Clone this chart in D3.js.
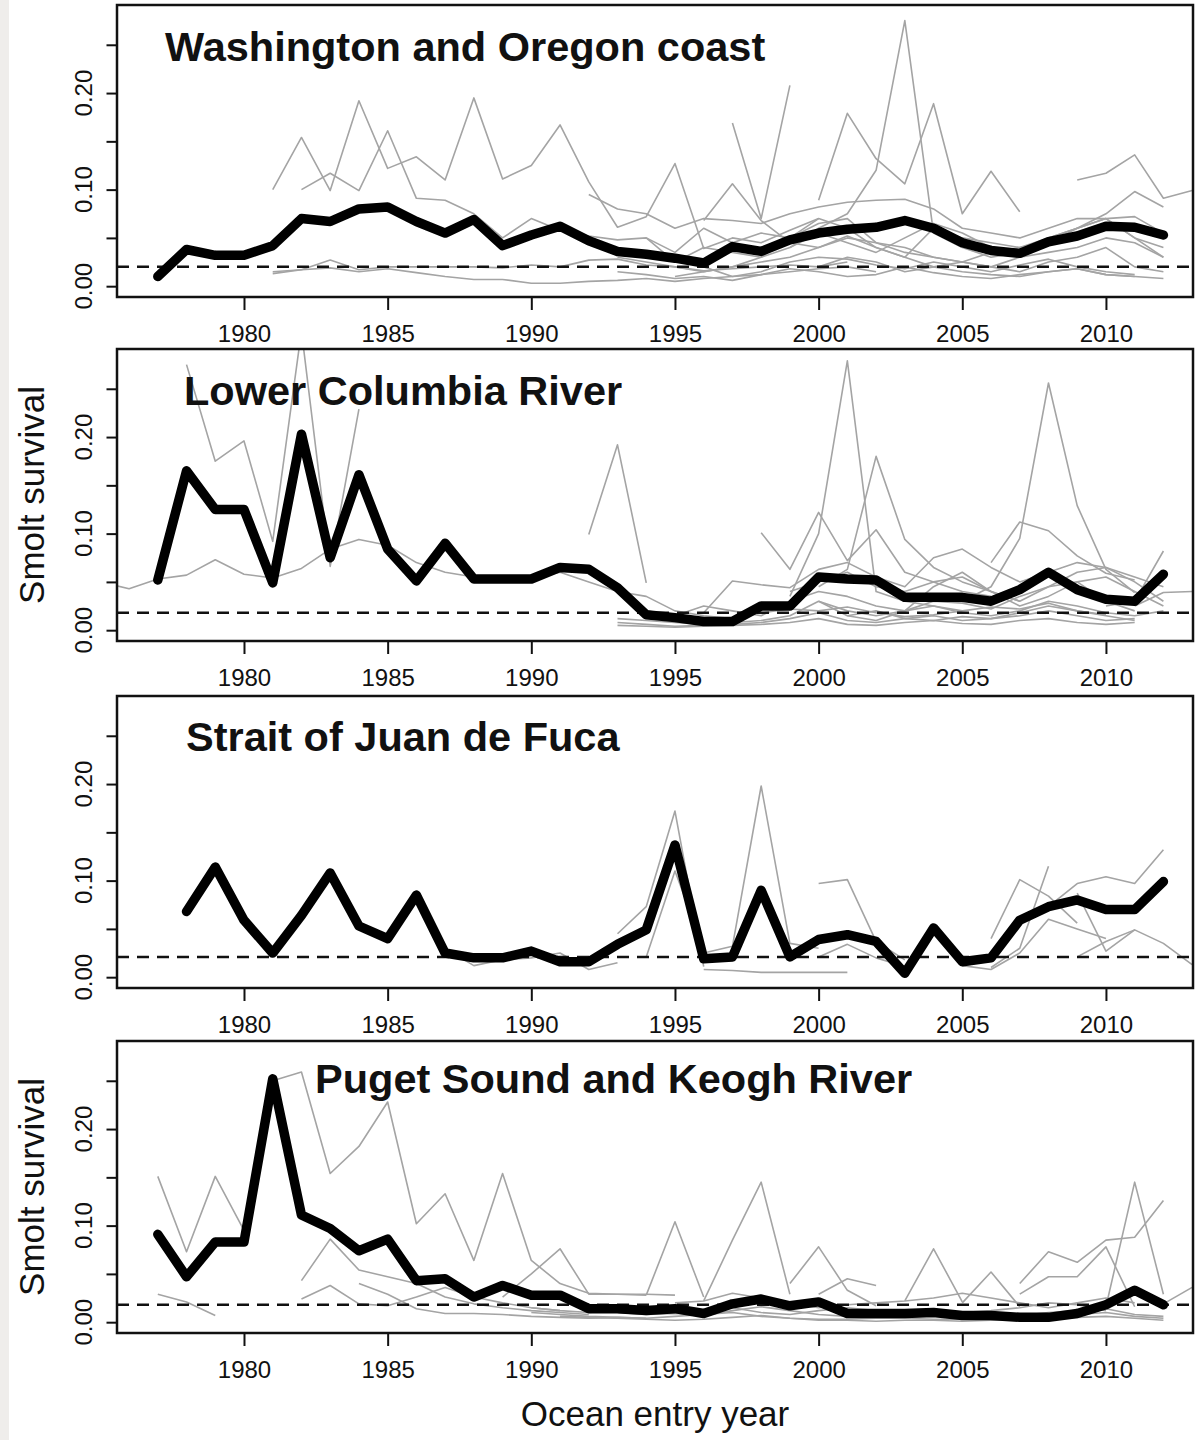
<!DOCTYPE html>
<html>
<head>
<meta charset="utf-8">
<script src="https://cdn.jsdelivr.net/npm/d3@7"></script>
<style>
  body { margin: 0; background: #fff; }
  svg { display: block; }
  text { font-family: "Liberation Sans", Arial, sans-serif; fill: #111; }
</style>
</head>
<body>
<svg id="chart" width="1197" height="1440"></svg>
<script>
// panel titles and reference (dashed) levels
var panelTitles = ["Washington and Oregon coast", "Lower Columbia River", "Strait of Juan de Fuca", "Puget Sound and Keogh River"];
var refLevels = [0.020, 0.018, 0.021, 0.018];

// thick black series, first year then one value per year
var medianStart = [1977, 1977, 1978, 1977];
var medianWA = [0.010, 0.038, 0.032, 0.032, 0.042, 0.070, 0.067, 0.080, 0.082, 0.067, 0.055, 0.069, 0.042, 0.053, 0.062, 0.047, 0.036, 0.033, 0.029, 0.024, 0.041, 0.036, 0.048, 0.055, 0.059, 0.061, 0.068, 0.060, 0.045, 0.037, 0.034, 0.046, 0.052, 0.062, 0.061, 0.053];
var medianLC = [0.052, 0.165, 0.125, 0.125, 0.049, 0.203, 0.075, 0.161, 0.084, 0.051, 0.090, 0.053, 0.053, 0.053, 0.065, 0.063, 0.044, 0.016, 0.013, 0.009, 0.009, 0.025, 0.025, 0.055, 0.053, 0.052, 0.034, 0.034, 0.034, 0.030, 0.042, 0.060, 0.042, 0.032, 0.030, 0.058];
var medianJF = [0.068, 0.114, 0.059, 0.025, 0.064, 0.108, 0.053, 0.040, 0.085, 0.025, 0.020, 0.020, 0.027, 0.016, 0.016, 0.034, 0.049, 0.137, 0.019, 0.021, 0.090, 0.021, 0.039, 0.044, 0.037, 0.004, 0.051, 0.016, 0.020, 0.059, 0.073, 0.080, 0.070, 0.070, 0.099];
var medianPS = [0.091, 0.047, 0.083, 0.083, 0.252, 0.111, 0.097, 0.074, 0.086, 0.043, 0.045, 0.026, 0.038, 0.028, 0.028, 0.014, 0.014, 0.012, 0.014, 0.009, 0.019, 0.024, 0.017, 0.021, 0.009, 0.009, 0.009, 0.010, 0.007, 0.007, 0.005, 0.005, 0.009, 0.018, 0.033, 0.018];

// thin grey series: [first year, values]
var grayWA = [
  [1981, [0.100, 0.154, 0.099, 0.192, 0.122, 0.134, 0.110, 0.195, 0.111, 0.125, 0.167, 0.108, 0.061, 0.072, 0.127, 0.039, 0.050, 0.045, 0.058, 0.070]],
  [1982, [0.100, 0.117, 0.099, 0.161, 0.091, 0.089, 0.075, 0.050, 0.070, 0.058, 0.052, 0.048, 0.050, 0.025, 0.040, 0.035, 0.030]],
  [1981, [0.015, 0.017, 0.027, 0.017, 0.020, 0.020, 0.020, 0.020, 0.019, 0.022, 0.020, 0.027, 0.028, 0.022, 0.020, 0.016, 0.018, 0.020, 0.022, 0.020, 0.025]],
  [1981, [0.013, 0.017, 0.019, 0.015, 0.018, 0.014, 0.010, 0.007, 0.007, 0.003, 0.003, 0.005, 0.006, 0.008, 0.005, 0.008, 0.010, 0.012, 0.015, 0.018, 0.020, 0.015]],
  [1999, [0.040, 0.060, 0.075, 0.120, 0.275, 0.055, 0.040, 0.030, 0.035]],
  [2000, [0.089, 0.179, 0.132, 0.106, 0.189, 0.075, 0.119, 0.077]],
  [2009, [0.110, 0.117, 0.136, 0.091, 0.099]],
  [2008, [0.050, 0.060, 0.075, 0.098, 0.082]],
  [1997, [0.169, 0.070, 0.208]],
  [1992, [0.095, 0.080, 0.075, 0.060, 0.070, 0.068, 0.065, 0.075, 0.082, 0.087, 0.089, 0.090, 0.080, 0.060, 0.055, 0.050, 0.060, 0.070, 0.070, 0.072, 0.055]],
  [1993, [0.030, 0.025, 0.020, 0.015, 0.020, 0.025, 0.030, 0.040, 0.050, 0.045, 0.040, 0.030, 0.025, 0.020, 0.030, 0.035, 0.040, 0.050, 0.045, 0.030]],
  [1995, [0.010, 0.015, 0.020, 0.030, 0.050, 0.070, 0.060, 0.040, 0.030, 0.060, 0.050, 0.045, 0.040, 0.050, 0.060, 0.070, 0.050, 0.040]],
  [1998, [0.030, 0.040, 0.055, 0.045, 0.035, 0.050, 0.065, 0.055, 0.040, 0.030, 0.045, 0.060, 0.070, 0.050, 0.030]],
  [2000, [0.020, 0.030, 0.025, 0.015, 0.020, 0.025, 0.020, 0.015, 0.025, 0.030, 0.040, 0.020, 0.015]],
  [1994, [0.050, 0.035, 0.060, 0.045, 0.055, 0.050, 0.065, 0.070, 0.045, 0.035, 0.030, 0.025, 0.035, 0.040, 0.045]],
  [1996, [0.068, 0.106, 0.068, 0.045, 0.040, 0.052, 0.040, 0.030, 0.020, 0.015, 0.012, 0.010, 0.015, 0.018, 0.012, 0.010, 0.008]],
  [1993, [0.015, 0.012, 0.008, 0.010, 0.006, 0.012, 0.018, 0.015, 0.010, 0.012, 0.020, 0.014, 0.010, 0.008, 0.012, 0.015, 0.018, 0.012, 0.010]],
  [1996, [0.020, 0.010, 0.015, 0.025, 0.030, 0.028, 0.022, 0.018, 0.025, 0.020, 0.015, 0.022, 0.028, 0.020, 0.015, 0.012]]
];
var grayLC = [
  [1978, [0.275, 0.175, 0.196, 0.092, 0.310, 0.066, 0.229]],
  [1975, [0.050, 0.043, 0.053, 0.057, 0.073, 0.058, 0.054, 0.064, 0.084, 0.094, 0.088, 0.070, 0.060, 0.055, 0.054, 0.054, 0.060, 0.050, 0.040, 0.035, 0.020, 0.015, 0.012]],
  [1992, [0.099, 0.192, 0.049]],
  [1998, [0.101, 0.063, 0.122, 0.072, 0.104, 0.060, 0.050, 0.040, 0.035]],
  [1999, [0.035, 0.100, 0.279, 0.040, 0.030, 0.025, 0.020]],
  [2000, [0.045, 0.063, 0.180, 0.094, 0.065, 0.050, 0.040, 0.030]],
  [2005, [0.030, 0.045, 0.095, 0.256, 0.129, 0.063, 0.039]],
  [2006, [0.070, 0.112, 0.103, 0.077, 0.059, 0.052]],
  [2010, [0.025, 0.030, 0.082]],
  [2011, [0.025, 0.039, 0.040]],
  [1996, [0.018, 0.051, 0.047, 0.044, 0.063, 0.070, 0.055, 0.045, 0.075, 0.084, 0.065, 0.050, 0.060, 0.070, 0.065, 0.055, 0.045]],
  [1993, [0.012, 0.010, 0.008, 0.006, 0.008, 0.010, 0.015, 0.030, 0.020, 0.015, 0.020, 0.025, 0.018, 0.015, 0.020, 0.030, 0.025, 0.018, 0.015, 0.020]],
  [1993, [0.008, 0.006, 0.004, 0.005, 0.006, 0.008, 0.012, 0.018, 0.010, 0.008, 0.012, 0.015, 0.010, 0.012, 0.015, 0.020, 0.015, 0.010, 0.012]],
  [1994, [0.020, 0.015, 0.025, 0.020, 0.015, 0.030, 0.040, 0.035, 0.025, 0.020, 0.030, 0.028, 0.022, 0.035, 0.045, 0.050, 0.030, 0.020]],
  [1999, [0.040, 0.050, 0.060, 0.045, 0.040, 0.050, 0.055, 0.040, 0.030, 0.045, 0.060, 0.065, 0.050, 0.030]],
  [2000, [0.030, 0.015, 0.010, 0.020, 0.045, 0.060, 0.040, 0.025, 0.035, 0.050, 0.055, 0.040, 0.025]],
  [1993, [0.005, 0.004, 0.003, 0.004, 0.005, 0.006, 0.008, 0.012, 0.006, 0.005, 0.008, 0.010, 0.007, 0.006, 0.010, 0.012, 0.008, 0.006, 0.008]],
  [1994, [0.014, 0.012, 0.010, 0.012, 0.018, 0.022, 0.020, 0.024, 0.018, 0.014, 0.016, 0.020, 0.024, 0.022, 0.028, 0.020, 0.016]],
  [2001, [0.015, 0.020, 0.012, 0.010, 0.014, 0.012, 0.018, 0.025, 0.020, 0.015, 0.010]]
];
var grayJF = [
  [1993, [0.045, 0.073, 0.172, 0.011]],
  [1994, [0.021, 0.110, 0.030]],
  [1996, [0.008, 0.007, 0.005, 0.005, 0.005, 0.005]],
  [1996, [0.025, 0.032, 0.198, 0.035, 0.030]],
  [2000, [0.097, 0.101, 0.037, 0.018]],
  [2000, [0.021, 0.034, 0.020, 0.011]],
  [2006, [0.040, 0.101, 0.084, 0.056]],
  [2006, [0.010, 0.030, 0.115]],
  [2008, [0.073, 0.097, 0.104, 0.097, 0.132]],
  [2009, [0.087, 0.027, 0.049, 0.035, 0.013]],
  [2009, [0.021, 0.037, 0.049]],
  [1986, [0.080, 0.030, 0.012, 0.018, 0.020, 0.025, 0.008, 0.015]],
  [2005, [0.012, 0.008, 0.025, 0.060, 0.050, 0.040]]
];
var grayPS = [
  [1977, [0.151, 0.073, 0.151, 0.095, 0.250, 0.259, 0.154, 0.182, 0.228, 0.102, 0.133, 0.064, 0.154, 0.064, 0.040, 0.030, 0.029, 0.028]],
  [1982, [0.043, 0.086, 0.054, 0.047, 0.040, 0.026, 0.019, 0.015, 0.012, 0.010, 0.008]],
  [1982, [0.024, 0.038, 0.019, 0.017, 0.026, 0.036, 0.026, 0.020, 0.015, 0.012]],
  [1977, [0.029, 0.021, 0.007]],
  [1984, [0.040, 0.029, 0.014, 0.009, 0.009, 0.008, 0.006, 0.005, 0.004, 0.005, 0.004]],
  [1989, [0.026, 0.050, 0.076, 0.029, 0.029, 0.029, 0.028]],
  [1994, [0.028, 0.104, 0.026]],
  [1996, [0.022, 0.085, 0.145, 0.029]],
  [1999, [0.040, 0.078, 0.033, 0.017]],
  [2000, [0.029, 0.045, 0.038]],
  [2003, [0.022, 0.076, 0.021]],
  [2005, [0.020, 0.052, 0.016]],
  [2007, [0.040, 0.073, 0.062, 0.085, 0.088, 0.126]],
  [2007, [0.029, 0.047, 0.047, 0.078, 0.016]],
  [2010, [0.016, 0.145, 0.029]],
  [2012, [0.019, 0.036]],
  [1990, [0.010, 0.008, 0.006, 0.005, 0.004, 0.006, 0.008, 0.010, 0.006, 0.004, 0.003, 0.003, 0.004, 0.004, 0.003, 0.003, 0.004, 0.005, 0.006, 0.008, 0.010, 0.006, 0.004]],
  [1990, [0.015, 0.012, 0.010, 0.012, 0.015, 0.010, 0.012, 0.015, 0.010, 0.008, 0.012, 0.015, 0.012, 0.010, 0.008, 0.010, 0.012, 0.015, 0.020, 0.018, 0.012]],
  [1995, [0.020, 0.022, 0.030, 0.025, 0.020, 0.015, 0.018, 0.020, 0.022, 0.025, 0.030, 0.025, 0.020, 0.015, 0.020, 0.025, 0.020]],
  [1991, [0.006, 0.005, 0.004, 0.003, 0.002, 0.003, 0.005, 0.007, 0.004, 0.002, 0.002, 0.001, 0.002, 0.002, 0.001, 0.002, 0.003, 0.004, 0.005, 0.006, 0.004, 0.002]],
  [1993, [0.010, 0.008, 0.009, 0.007, 0.012, 0.016, 0.012, 0.008, 0.006, 0.007, 0.009, 0.008, 0.006, 0.005, 0.007, 0.010, 0.012, 0.014, 0.008, 0.006]]
];

// axis ticks
var xTicks = [1980, 1985, 1990, 1995, 2000, 2005, 2010];
var yTicks = [0, 0.05, 0.10, 0.15, 0.20, 0.25];
var yLabelTicks = [0, 0.10, 0.20];

var medians = [medianWA, medianLC, medianJF, medianPS];
var grays = [grayWA, grayLC, grayJF, grayPS];

// layout
var boxLeft = 117, boxRight = 1193, panelH = 292;
var panelTops = [5, 349, 696, 1041];
var titlePos = [[165, 61], [184, 405], [186, 751], [315, 1093]];

var svg = d3.select("#chart");
svg.append("rect").attr("x", 0).attr("y", 0).attr("width", 9).attr("height", 1440).attr("fill", "#efedeb");

var x = d3.scaleLinear().domain([1975.58, 2013.03]).range([boxLeft, boxRight]);

function toPoints(start, vals) {
  return vals.map(function(v, i) { return [start + i, v]; });
}

panelTops.forEach(function(top, p) {
  var y = d3.scaleLinear().domain([-0.0112, 0.2912]).range([top + panelH, top]);
  var line = d3.line()
    .x(function(d) { return x(d[0]); })
    .y(function(d) { return y(d[1]); });

  var g = svg.append("g");

  svg.append("clipPath").attr("id", "clip" + p)
    .append("rect")
    .attr("x", boxLeft).attr("y", top)
    .attr("width", boxRight - boxLeft).attr("height", panelH);

  var plot = g.append("g").attr("clip-path", "url(#clip" + p + ")");

  plot.selectAll("path.gray")
    .data(grays[p])
    .enter()
    .append("path")
    .attr("class", "gray")
    .attr("d", function(d) { return line(toPoints(d[0], d[1])); })
    .attr("fill", "none")
    .attr("stroke", "#a4a4a4")
    .attr("stroke-width", 1.6)
    .attr("stroke-linejoin", "round");

  plot.append("line")
    .attr("x1", boxLeft).attr("x2", boxRight)
    .attr("y1", y(refLevels[p])).attr("y2", y(refLevels[p]))
    .attr("stroke", "#111")
    .attr("stroke-width", 2.5)
    .attr("stroke-dasharray", "12,8");

  plot.append("path")
    .attr("d", line(toPoints(medianStart[p], medians[p])))
    .attr("fill", "none")
    .attr("stroke", "#000")
    .attr("stroke-width", 9.5)
    .attr("stroke-linejoin", "round")
    .attr("stroke-linecap", "round");

  // y axis
  var yAxis = d3.axisLeft(y).tickValues(yTicks).tickSize(10.5).tickSizeOuter(0).tickFormat("");
  var ya = g.append("g")
    .attr("transform", "translate(" + boxLeft + ",0)")
    .call(yAxis);
  ya.select(".domain").remove();
  ya.selectAll("line").attr("stroke", "#111").attr("stroke-width", 2);

  g.selectAll("text.ylab")
    .data(yLabelTicks)
    .enter()
    .append("text")
    .attr("class", "ylab")
    .attr("transform", function(d) { return "translate(92," + y(d) + ") rotate(-90)"; })
    .attr("text-anchor", "middle")
    .attr("font-size", "24px")
    .text(d3.format(".2f"));

  // x axis
  var xAxis = d3.axisBottom(x).tickValues(xTicks).tickSize(13).tickPadding(15).tickSizeOuter(0).tickFormat(d3.format("d"));
  var xa = g.append("g")
    .attr("transform", "translate(0," + (top + panelH) + ")")
    .call(xAxis);
  xa.select(".domain").remove();
  xa.selectAll("line").attr("stroke", "#111").attr("stroke-width", 2);
  xa.selectAll("text").attr("font-size", "24px").attr("font-family", "Liberation Sans, Arial, sans-serif").attr("fill", "#111");

  // box
  g.append("rect")
    .attr("x", boxLeft).attr("y", top)
    .attr("width", boxRight - boxLeft).attr("height", panelH)
    .attr("fill", "none")
    .attr("stroke", "#111")
    .attr("stroke-width", 2.5);

  g.append("text")
    .attr("x", titlePos[p][0]).attr("y", titlePos[p][1])
    .attr("font-size", "41.5px")
    .attr("font-weight", "bold")
    .text(panelTitles[p]);
});

// axis titles
[1, 3].forEach(function(p) {
  svg.append("text")
    .attr("transform", "translate(44," + (panelTops[p] + panelH / 2) + ") rotate(-90)")
    .attr("text-anchor", "middle")
    .attr("font-size", "35px")
    .text("Smolt survival");
});

svg.append("text")
  .attr("x", (boxLeft + boxRight) / 2)
  .attr("y", 1426)
  .attr("text-anchor", "middle")
  .attr("font-size", "35px")
  .text("Ocean entry year");
</script>
</body>
</html>
